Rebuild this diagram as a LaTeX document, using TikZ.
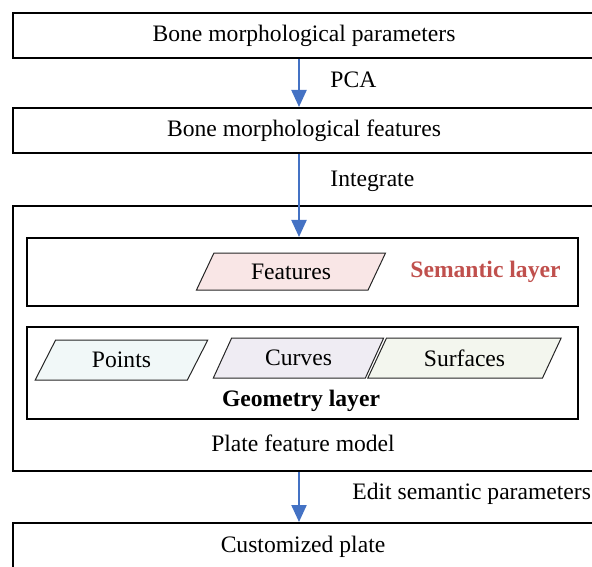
\documentclass[tikz,border=0pt]{standalone}
\usepackage{fontspec}
\setmainfont{Liberation Serif}
\usetikzlibrary{arrows.meta,shapes.geometric}
\definecolor{arrblue}{HTML}{4472C4}
\definecolor{semred}{HTML}{C0504D}
\definecolor{featfill}{HTML}{F9E6E6}
\definecolor{ptfill}{HTML}{F1F8F8}
\definecolor{cvfill}{HTML}{EFECF3}
\definecolor{sffill}{HTML}{F3F6EE}
\tikzset{
  box/.style={draw=black, line width=1pt, rectangle, inner sep=0pt, anchor=north west},
  para/.style={draw=black!85, line width=0.5pt, trapezium, trapezium stretches=true,
    trapezium left angle=60, trapezium right angle=120, inner sep=0pt},
  arr/.style={draw=arrblue, line width=1.1pt, -{Triangle[width=7.5pt,length=8.5pt]}},
  lbl/.style={inner sep=0pt, anchor=west},
}
\begin{document}
\begin{tikzpicture}[x=0.5pt,y=-0.5pt,font=\fontsize{11.8}{14}\selectfont]
\useasboundingbox (0,0) rectangle (592,566);
\node[box, minimum width=291pt, minimum height=22.5pt] (b1) at (12,12) {};
\node at (b1.center) {Bone morphological parameters};
\node[box, minimum width=291pt, minimum height=22.5pt] (b2) at (12,107) {};
\node at (b2.center) {Bone morphological features};
\node[box, minimum width=291pt, minimum height=132.5pt] (outer) at (12,205) {};
\node[box, minimum width=275.5pt, minimum height=34pt] (sem) at (26,237) {};
\node[box, minimum width=275.5pt, minimum height=46pt] (geo) at (26,326) {};
\node[box, minimum width=291pt, minimum height=40pt] (b4) at (12,522) {};
\node at (303,547) (cp) {Customized plate};
\node[para, fill=featfill, minimum width=95pt, minimum height=18.5pt] (feat) at (291,271.5) {Features};
\node[lbl, text=semred, font=\fontsize{11.8}{14}\selectfont\bfseries] (seml) at (410,272) {Semantic layer};
\node[para, fill=ptfill, minimum width=86.5pt, minimum height=20pt] (pts) at (121.5,360) {Points};
\node[para, fill=cvfill, minimum width=85.5pt, minimum height=20pt] (cvs) at (298.5,358) {Curves};
\node[para, fill=sffill, minimum width=97pt, minimum height=20pt] (sfs) at (464.5,358) {Surfaces};
\node[font=\fontsize{11.8}{14}\selectfont\bfseries] (geol) at (301,401) {Geometry layer};
\node (pfm) at (303,443) {Plate feature model};
\draw[arr] (b1.south -| 299,0) -- (b2.north -| 299,0);
\draw[arr] (b2.south -| 299,0) -- (sem.north -| 299,0);
\draw[arr] (outer.south -| 299,0) -- (b4.north -| 299,0);
\node[lbl] (pca) at (330,80) {PCA};
\node[lbl] (intg) at (330,181) {Integrate};
\node[lbl] (edit) at (352,494) {Edit semantic parameters};
\end{tikzpicture}
\end{document}
